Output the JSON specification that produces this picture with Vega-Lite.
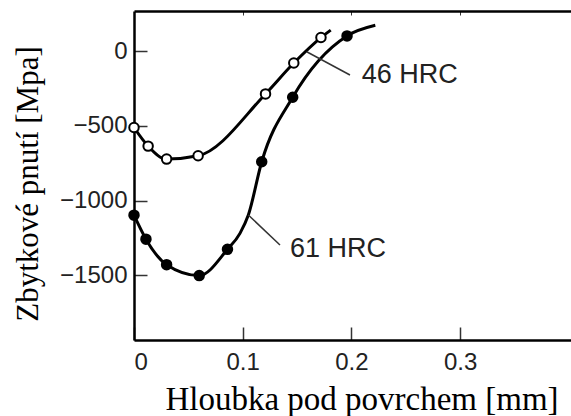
{
  "$schema": "https://vega.github.io/schema/vega-lite/v6.json",
  "width": 440,
  "height": 329,
  "autosize": {"type": "none"},
  "padding": {"left": 134, "top": 11, "right": 0, "bottom": 76},
  "background": "white",
  "config": {
    "view": {"stroke": null},
    "axis": {
      "grid": false,
      "domainColor": "black",
      "domainWidth": 2.5,
      "tickColor": "#333",
      "tickWidth": 1.5,
      "labelFont": "Liberation Sans",
      "labelFontSize": 24,
      "labelColor": "#222",
      "titleFont": "Liberation Serif",
      "titleFontWeight": "normal",
      "titleColor": "black"
    }
  },
  "datasets": {
    "profiles": [
      {"hardness": "46 HRC", "depth": 0.0, "stress": -510, "measured": true},
      {"hardness": "46 HRC", "depth": 0.013, "stress": -635, "measured": true},
      {"hardness": "46 HRC", "depth": 0.030, "stress": -722, "measured": true},
      {"hardness": "46 HRC", "depth": 0.059, "stress": -700, "measured": true},
      {"hardness": "46 HRC", "depth": 0.121, "stress": -285, "measured": true},
      {"hardness": "46 HRC", "depth": 0.147, "stress": -78, "measured": true},
      {"hardness": "46 HRC", "depth": 0.172, "stress": 93, "measured": true},
      {"hardness": "46 HRC", "depth": 0.181, "stress": 143, "measured": false},
      {"hardness": "61 HRC", "depth": 0.0, "stress": -1098, "measured": true},
      {"hardness": "61 HRC", "depth": 0.011, "stress": -1259, "measured": true},
      {"hardness": "61 HRC", "depth": 0.030, "stress": -1430, "measured": true},
      {"hardness": "61 HRC", "depth": 0.060, "stress": -1503, "measured": true},
      {"hardness": "61 HRC", "depth": 0.086, "stress": -1327, "measured": true},
      {"hardness": "61 HRC", "depth": 0.0975, "stress": -1220, "measured": false},
      {"hardness": "61 HRC", "depth": 0.1052, "stress": -1097, "measured": false},
      {"hardness": "61 HRC", "depth": 0.1175, "stress": -740, "measured": true},
      {"hardness": "61 HRC", "depth": 0.146, "stress": -307, "measured": true},
      {"hardness": "61 HRC", "depth": 0.196, "stress": 104, "measured": true},
      {"hardness": "61 HRC", "depth": 0.222, "stress": 175, "measured": false}
    ],
    "labels": [
      {"label": "46 HRC", "depth": 0.2095, "stress": -214},
      {"label": "61 HRC", "depth": 0.1435, "stress": -1376}
    ],
    "leaders": [
      {"depth": 0.1589, "stress": -2, "depth2": 0.1987, "stress2": -158},
      {"depth": 0.1052, "stress": -1097, "depth2": 0.1343, "stress2": -1298}
    ]
  },
  "resolve": {"axis": {"x": "independent"}},
  "layer": [
    {
      "data": {"name": "profiles"},
      "mark": {"type": "line", "interpolate": "monotone", "color": "black", "strokeWidth": 3},
      "encoding": {
        "x": {
          "field": "depth", "type": "quantitative",
          "scale": {"domain": [0, 0.4048], "nice": false, "zero": false},
          "axis": {
            "orient": "bottom",
            "title": "Hloubka pod povrchem [mm]",
            "values": [0, 0.1, 0.2, 0.3],
            "format": ".1~f",
            "tickSize": -13,
            "labelPadding": 23,
            "titleFontSize": 33,
            "titleX": 227.5,
            "titleY": 69,
            "titleAlign": "center",
            "titleBaseline": "alphabetic"
          }
        },
        "y": {
          "field": "stress", "type": "quantitative",
          "scale": {"domain": [-1935, 271], "nice": false, "zero": false},
          "axis": {
            "orient": "left",
            "title": "Zbytkové pnutí [Mpa]",
            "values": [0, -500, -1000, -1500],
            "format": "d",
            "tickSize": -13,
            "labelPadding": 20,
            "titleFontSize": 31,
            "titleX": -97,
            "titleY": 172.5,
            "titleAngle": -90,
            "titleAlign": "center",
            "titleBaseline": "alphabetic"
          }
        },
        "detail": {"field": "hardness", "type": "nominal"}
      }
    },
    {
      "data": {"name": "profiles"},
      "transform": [{"filter": "datum.measured"}],
      "mark": {"type": "point", "shape": "circle", "size": 90, "stroke": "black", "strokeWidth": 2, "opacity": 1, "fillOpacity": 1},
      "encoding": {
        "x": {"field": "depth", "type": "quantitative", "axis": null},
        "y": {"field": "stress", "type": "quantitative"},
        "fill": {
          "field": "hardness", "type": "nominal",
          "scale": {"domain": ["46 HRC", "61 HRC"], "range": ["white", "black"]},
          "legend": null
        }
      }
    },
    {
      "data": {"name": "leaders"},
      "mark": {"type": "rule", "color": "#333", "strokeWidth": 1.5},
      "encoding": {
        "x": {
          "field": "depth", "type": "quantitative",
          "axis": {"orient": "top", "title": null, "labels": false, "values": [0.1, 0.2, 0.3], "tickSize": -4, "tickWidth": 1}
        },
        "y": {"field": "stress", "type": "quantitative"},
        "x2": {"field": "depth2"},
        "y2": {"field": "stress2"}
      }
    },
    {
      "data": {"name": "labels"},
      "mark": {"type": "text", "align": "left", "baseline": "alphabetic", "font": "Liberation Sans", "fontSize": 27, "color": "#222"},
      "encoding": {
        "x": {"field": "depth", "type": "quantitative", "axis": null},
        "y": {"field": "stress", "type": "quantitative"},
        "text": {"field": "label"}
      }
    }
  ]
}
